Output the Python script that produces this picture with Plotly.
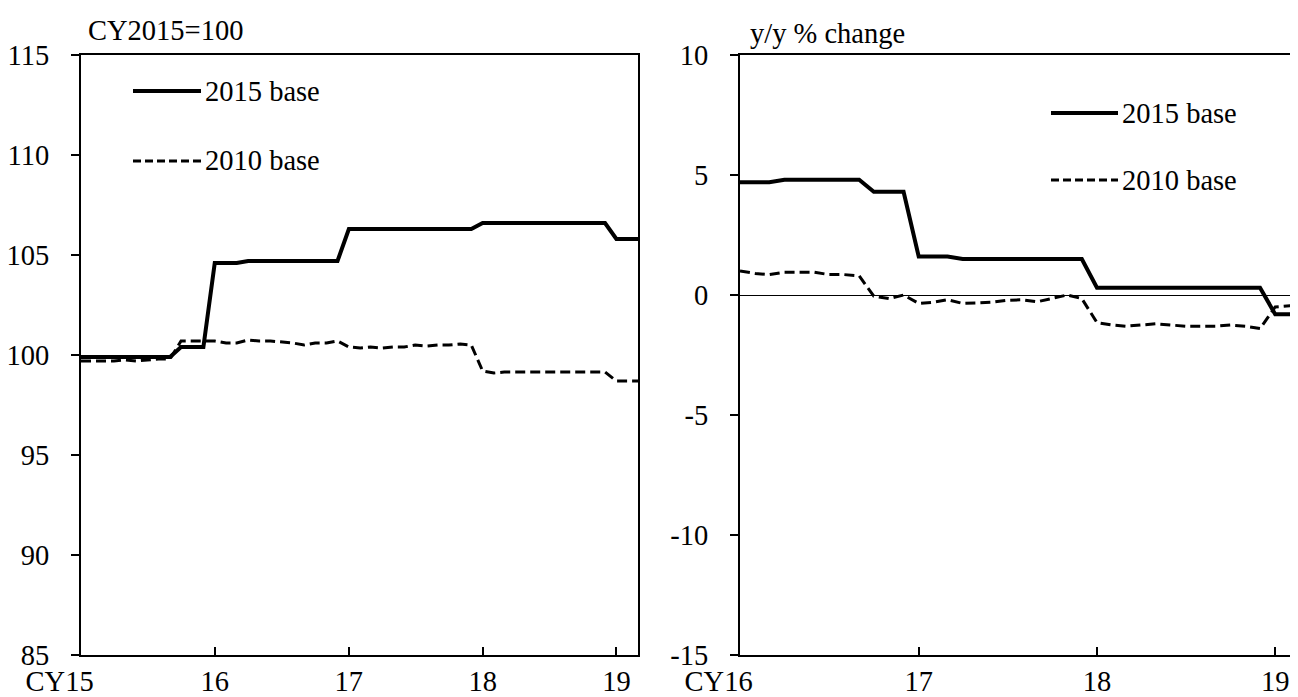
import pandas as pd
import plotly.graph_objects as go

# ---------------- data ----------------
months_left = pd.date_range("2015-01-01", "2019-03-01", freq="MS")
months_right = pd.date_range("2016-01-01", "2019-03-01", freq="MS")

index_2015_base = [99.9] * 9 + [100.4] * 3 + [104.6] * 3 + [104.7] * 9 + \
    [106.3] * 12 + [106.6] * 12 + [105.8] * 3
index_2010_base = [99.7, 99.7, 99.7, 99.7, 99.75, 99.7, 99.75, 99.8, 99.8,
                   100.7, 100.7, 100.7,
                   100.7, 100.6, 100.6, 100.75, 100.7, 100.7, 100.65, 100.6, 100.5, 100.6, 100.6, 100.7,
                   100.4, 100.35, 100.4, 100.35, 100.4, 100.4, 100.5, 100.45, 100.5, 100.5, 100.55, 100.5,
                   99.2, 99.1, 99.15, 99.15, 99.15, 99.15, 99.15, 99.15, 99.15, 99.15, 99.15, 99.15,
                   98.7, 98.7, 98.7]

yoy_2015_base = [4.7] * 3 + [4.8] * 6 + [4.3] * 3 + [1.6] * 3 + [1.5] * 9 + \
    [0.3] * 12 + [-0.8] * 3
yoy_2010_base = [1.0, 0.9, 0.85, 0.95, 0.95, 0.95, 0.85, 0.85, 0.8, -0.05, -0.15, 0.0,
                 -0.35, -0.3, -0.2, -0.35, -0.33, -0.3, -0.22, -0.2, -0.28, -0.15, 0.0, -0.15,
                 -1.15, -1.25, -1.3, -1.25, -1.2, -1.25, -1.3, -1.3, -1.3, -1.25, -1.3, -1.4,
                 -0.5, -0.45, -0.4]

PAD = "&nbsp;" * 6
left_xticks = ["2015-01-01", "2016-01-01", "2017-01-01", "2018-01-01", "2019-01-01"]
left_xtext = ["CY15" + PAD, "16", "17", "18", "19"]
right_xticks = ["2016-01-01", "2017-01-01", "2018-01-01", "2019-01-01"]
right_xtext = ["CY16" + PAD, "17", "18", "19"]
left_yticks = [85, 90, 95, 100, 105, 110, 115]
right_yticks = [-15, -10, -5, 0, 5, 10]
right_ytext = ["-15", "-10", "-5", "0", "5", "10"]
series_names = ["2015 base", "2010 base"]

# ---------------- layout helpers ----------------
W, H = 1298, 697
FONT = "Liberation Serif, Times New Roman, serif"
FS = 28.5


def px(x):
    return x / W


def py(y):
    return 1 - y / H


ydom = [py(647), py(47)]
solid = dict(color="black", width=4)
dashed = dict(color="black", width=3, dash="10px,5px")
dashed_leg = dict(color="black", width=3, dash="8px,4px")

fig = go.Figure()
fig.add_trace(go.Scatter(x=months_left, y=index_2015_base, mode="lines", line=solid,
                         name=series_names[0], xaxis="x", yaxis="y", showlegend=False))
fig.add_trace(go.Scatter(x=months_left, y=index_2010_base, mode="lines", line=dashed,
                         name=series_names[1], xaxis="x", yaxis="y", showlegend=False))
fig.add_trace(go.Scatter(x=months_right, y=yoy_2015_base, mode="lines", line=solid,
                         name=series_names[0], xaxis="x2", yaxis="y2", showlegend=False))
fig.add_trace(go.Scatter(x=months_right, y=yoy_2010_base, mode="lines", line=dashed,
                         name=series_names[1], xaxis="x2", yaxis="y2", showlegend=False))

axis_common = dict(showgrid=False, linecolor="black", linewidth=2, mirror=True,
                   tickcolor="black", tickwidth=2, ticklen=8, automargin=False,
                   tickfont=dict(family=FONT, size=FS, color="black"))

fig.update_layout(
    template="none",
    width=W, height=H,
    margin=dict(l=0, r=0, t=0, b=0, autoexpand=False),
    paper_bgcolor="white", plot_bgcolor="white",
    font=dict(family=FONT, size=FS, color="black"),
    xaxis=dict(domain=[px(73), px(630)], anchor="y", type="date",
               range=["2015-01-01", "2019-03-01"], tickmode="array",
               tickvals=left_xticks, ticktext=left_xtext, ticks="inside",
               zeroline=False, ticklabelstandoff=0, **axis_common),
    yaxis=dict(domain=ydom, anchor="x", range=[85, 115], tickmode="array",
               tickvals=left_yticks, ticks="outside", zeroline=False,
               ticklabelstandoff=16, **axis_common),
    xaxis2=dict(domain=[px(732), px(1296)], anchor="y2", type="date",
                range=["2016-01-01", "2019-03-01"], tickmode="array",
                tickvals=right_xticks, ticktext=right_xtext, ticks="inside",
                zeroline=False, ticklabelstandoff=0, **axis_common),
    yaxis2=dict(domain=ydom, anchor="x2", range=[-15, 10], tickmode="array",
                tickvals=right_yticks, ticktext=right_ytext, ticks="outside",
                zeroline=True, zerolinecolor="black", zerolinewidth=1,
                ticklabelstandoff=16, **axis_common),
)

annotations = []
shapes = []


def text(x, y, s, anchor="left"):
    annotations.append(dict(x=px(x), y=py(y), xref="paper", yref="paper", text=s,
                            showarrow=False, xanchor=anchor, yanchor="middle",
                            font=dict(family=FONT, size=FS, color="black")))


def legline(x0, x1, y, line):
    shapes.append(dict(type="line", xref="paper", yref="paper", x0=px(x0), x1=px(x1),
                       y0=py(y), y1=py(y), line=line))


# axis titles
text(78, 23, "CY2015=100")
text(740, 25, "y/y % change")
# legends
legline(125, 193, 83, solid)
legline(125, 193, 153, dashed_leg)
text(195, 83, series_names[0])
text(195, 153, series_names[1])
legline(1043, 1110, 105, solid)
legline(1043, 1110, 172, dashed_leg)
text(1112, 105, series_names[0])
text(1112, 172, series_names[1])

fig.update_layout(annotations=annotations, shapes=shapes)
fig.write_html("out.html")
